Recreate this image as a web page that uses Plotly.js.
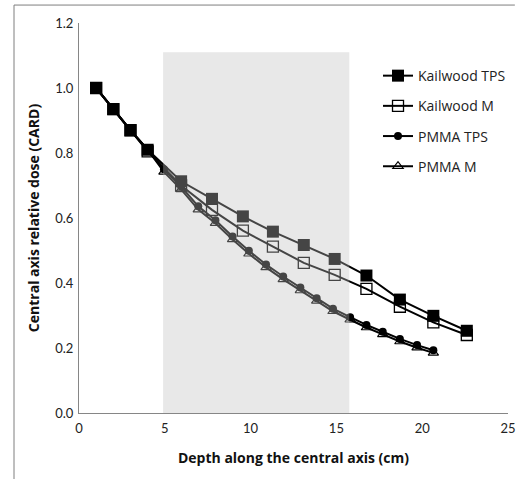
<!DOCTYPE html>
<html>
<head>
<meta charset="utf-8">
<script src="https://cdn.plot.ly/plotly-3.0.1.min.js"></script>
<style>html,body{margin:0;padding:0;background:#fff;}#chart{width:523px;height:479px;}</style>
</head>
<body>
<div id="chart"></div>
<script>
// Kailwood depths (cm) and relative doses
const kailwoodDepth = [1, 2, 3, 4, 5.95, 7.75, 9.55, 11.3, 13.1, 14.9, 16.75, 18.7, 20.65, 22.6];
const kailwoodTPS   = [1.0, 0.935, 0.87, 0.81, 0.713, 0.659, 0.605, 0.558, 0.517, 0.474, 0.423, 0.349, 0.299, 0.253];
const kailwoodM     = [1.0, 0.935, 0.87, 0.805, 0.70, 0.625, 0.561, 0.512, 0.462, 0.425, 0.382, 0.327, 0.279, 0.240];
// PMMA depths (cm) and relative doses
const pmmaDepth = [1, 2, 3, 4, 4.95, 5.95, 6.95, 7.95, 8.95, 9.9, 10.9, 11.9, 12.9, 13.85, 14.8, 15.8, 16.75, 17.7, 18.7, 19.7, 20.65];
const pmmaTPS   = [1.0, 0.935, 0.87, 0.81, 0.75, 0.697, 0.636, 0.593, 0.543, 0.499, 0.457, 0.420, 0.386, 0.353, 0.321, 0.295, 0.271, 0.250, 0.228, 0.209, 0.193];
const pmmaM     = [1.0, 0.935, 0.87, 0.81, 0.742, 0.688, 0.626, 0.584, 0.534, 0.490, 0.448, 0.411, 0.377, 0.345, 0.313, 0.287, 0.263, 0.242, 0.220, 0.201, 0.185];
// Shaded depth band
const bandX = [4.9, 15.75];
const bandTop = 1.11;

const seriesNames = ['Kailwood TPS', 'Kailwood M', 'PMMA TPS', 'PMMA M'];
const xTicks = [0, 5, 10, 15, 20, 25];
const yTicks = [0, 0.2, 0.4, 0.6, 0.8, 1.0, 1.2];

const lineStyle = {color: '#000', width: 2};
const traces = [
  {x: pmmaDepth, y: pmmaM, name: seriesNames[3], legendrank: 4, legendgroup: 'd', mode: 'lines+markers',
   line: lineStyle, marker: {symbol: 'triangle-up-open', size: 9, color: '#000', line: {width: 1.2, color: '#000'}}},
  {x: pmmaDepth, y: pmmaTPS, name: seriesNames[2], legendrank: 3, legendgroup: 'c', mode: 'lines+markers',
   line: lineStyle, marker: {symbol: 'circle', size: 8, color: '#000'}},
  {x: kailwoodDepth, y: kailwoodM, name: seriesNames[1], legendrank: 2, legendgroup: 'b', mode: 'lines+markers',
   line: lineStyle, marker: {symbol: 'square-open', size: 11, color: '#000', line: {width: 1.3, color: '#000'}}},
  {x: kailwoodDepth, y: kailwoodTPS, name: seriesNames[0], legendrank: 1, legendgroup: 'a', mode: 'lines+markers',
   line: lineStyle, marker: {symbol: 'square', size: 12, color: '#000'}}
];

const tickFamily = 'Lato, "Open Sans", sans-serif';
const textFamily = '"Open Sans", Lato, sans-serif';
const layout = {
  width: 523, height: 479,
  margin: {l: 79, r: 15, t: 23, b: 66},
  paper_bgcolor: '#fff', plot_bgcolor: '#fff',
  font: {family: textFamily, color: '#222'},
  showlegend: true,
  legend: {x: 0.697, xanchor: 'left', y: 0.905, yanchor: 'top', traceorder: 'grouped', tracegroupgap: 9,
           bgcolor: 'rgba(0,0,0,0)', font: {size: 14, family: textFamily, color: '#222'}},
  xaxis: {range: [0, 25], tickvals: xTicks, ticktext: xTicks.map(String), showgrid: false, zeroline: false,
          showline: true, linecolor: '#868686', linewidth: 1, ticks: '', ticklabelstandoff: 3,
          tickfont: {size: 13, family: tickFamily, color: '#222'},
          title: {text: '<b>Depth along the central axis (cm)</b>', font: {size: 14, family: textFamily, color: '#111'}, standoff: 18}},
  yaxis: {range: [0, 1.2], tickvals: yTicks, ticktext: yTicks.map(v => v.toFixed(1)), showgrid: false, zeroline: false,
          showline: true, linecolor: '#868686', linewidth: 1, ticks: '', ticklabelstandoff: 2,
          tickfont: {size: 13, family: tickFamily, color: '#222'},
          title: {text: '<b>Central axis relative dose (CARD)</b>', font: {size: 14, family: textFamily, color: '#111'}, standoff: 12}},
  shapes: [
    {type: 'rect', xref: 'x', yref: 'y', x0: bandX[0], x1: bandX[1], y0: 0, y1: bandTop, layer: 'above',
     fillcolor: 'rgba(190,190,190,0.36)', line: {width: 0}},
    {type: 'line', xref: 'paper', yref: 'paper', x0: -0.1515, x1: -0.1515, y0: 1.046, y1: -0.2, line: {color: '#7f7f7f', width: 1}},
    {type: 'line', xref: 'paper', yref: 'paper', x0: -0.1515, x1: 1.016, y0: 1.046, y1: 1.046, line: {color: '#7f7f7f', width: 1}}
  ]
};

Plotly.newPlot('chart', traces, layout, {displayModeBar: false, staticPlot: true});
</script>
</body>
</html>
